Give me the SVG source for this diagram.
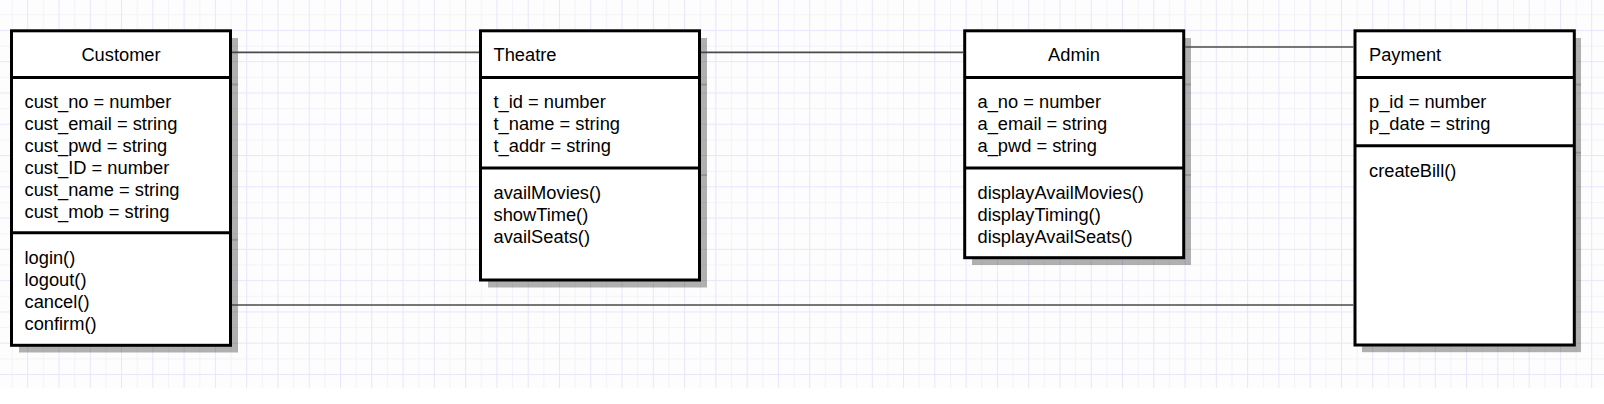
<svg xmlns="http://www.w3.org/2000/svg" width="1604" height="404" viewBox="0 0 1604 404">
<style>
.box{fill:#ffffff;stroke:#000000;stroke-width:3}
.div{stroke:#000000;stroke-width:3}
.shadow{fill:#000000;fill-opacity:0.3}
.sdiv{stroke:#000000;stroke-opacity:0.15;stroke-width:2}
.t{font-family:"Liberation Sans",Arial,sans-serif;font-size:18.3px;fill:#000000}
.c{text-anchor:middle}
.conn{stroke:#4a4a4a;stroke-width:1.7;fill:none}
</style>
<defs>
<pattern id="grid" patternUnits="userSpaceOnUse" x="27.2" y="29.9" width="31.28" height="31.28">
<rect x="0" y="0" width="31.28" height="31.28" fill="#fdfdfe"/>
<rect x="15.64" y="0" width="1" height="31.28" fill="#f3f3f9"/>
<rect x="0" y="15.64" width="31.28" height="1" fill="#f3f3f9"/>
<rect x="0" y="0" width="1" height="31.28" fill="#e8e6fb"/>
<rect x="0" y="0" width="31.28" height="1" fill="#e8e6fb"/>
</pattern>
</defs>
<rect x="0" y="0" width="1604" height="404" fill="#ffffff"/>
<rect id="grid-bg" x="0" y="0" width="1604" height="388" fill="url(#grid)"/>

<g id="customer">
<rect class="shadow" x="19" y="38" width="219" height="314.5"/>
<line class="sdiv" x1="231" y1="84.5" x2="238" y2="84.5"/>
<line class="sdiv" x1="231" y1="239.8" x2="238" y2="239.8"/>
<rect class="box" x="11.5" y="30.8" width="219" height="314.5"/>
<line class="div" x1="11.5" y1="77.5" x2="230.5" y2="77.5"/>
<line class="div" x1="11.5" y1="232.8" x2="230.5" y2="232.8"/>
<text class="t c" x="121" y="61">Customer</text>
<text class="t" x="24.5" y="108">cust_no = number</text>
<text class="t" x="24.5" y="130">cust_email = string</text>
<text class="t" x="24.5" y="152">cust_pwd = string</text>
<text class="t" x="24.5" y="174">cust_ID = number</text>
<text class="t" x="24.5" y="196">cust_name = string</text>
<text class="t" x="24.5" y="218">cust_mob = string</text>
<text class="t" x="24.5" y="264">login()</text>
<text class="t" x="24.5" y="286">logout()</text>
<text class="t" x="24.5" y="308">cancel()</text>
<text class="t" x="24.5" y="330">confirm()</text>
</g>

<g id="theatre">
<rect class="shadow" x="488" y="38" width="219" height="249.5"/>
<line class="sdiv" x1="700" y1="84.5" x2="707" y2="84.5"/>
<line class="sdiv" x1="700" y1="175" x2="707" y2="175"/>
<rect class="box" x="480.5" y="30.8" width="219" height="249.2"/>
<line class="div" x1="480.5" y1="77.5" x2="699.5" y2="77.5"/>
<line class="div" x1="480.5" y1="168" x2="699.5" y2="168"/>
<text class="t" x="493.5" y="61">Theatre</text>
<text class="t" x="493.5" y="108">t_id = number</text>
<text class="t" x="493.5" y="130">t_name = string</text>
<text class="t" x="493.5" y="152">t_addr = string</text>
<text class="t" x="493.5" y="199">availMovies()</text>
<text class="t" x="493.5" y="221">showTime()</text>
<text class="t" x="493.5" y="243">availSeats()</text>
</g>

<g id="admin">
<rect class="shadow" x="972" y="38" width="219" height="227"/>
<line class="sdiv" x1="1184" y1="84.5" x2="1191" y2="84.5"/>
<line class="sdiv" x1="1184" y1="175" x2="1191" y2="175"/>
<rect class="box" x="964.7" y="30.8" width="219" height="226.9"/>
<line class="div" x1="964.7" y1="77.5" x2="1183.7" y2="77.5"/>
<line class="div" x1="964.7" y1="168" x2="1183.7" y2="168"/>
<text class="t c" x="1074" y="61">Admin</text>
<text class="t" x="977.5" y="108">a_no = number</text>
<text class="t" x="977.5" y="130">a_email = string</text>
<text class="t" x="977.5" y="152">a_pwd = string</text>
<text class="t" x="977.5" y="199">displayAvailMovies()</text>
<text class="t" x="977.5" y="221">displayTiming()</text>
<text class="t" x="977.5" y="243">displayAvailSeats()</text>
</g>

<g id="payment">
<rect class="shadow" x="1362" y="38" width="219" height="314.2"/>
<line class="sdiv" x1="1575" y1="84.5" x2="1581" y2="84.5"/>
<line class="sdiv" x1="1575" y1="152.7" x2="1581" y2="152.7"/>
<rect class="box" x="1355" y="30.8" width="219.3" height="314.2"/>
<line class="div" x1="1355" y1="77.5" x2="1574.3" y2="77.5"/>
<line class="div" x1="1355" y1="145.7" x2="1574.3" y2="145.7"/>
<text class="t" x="1369" y="61">Payment</text>
<text class="t" x="1369" y="108">p_id = number</text>
<text class="t" x="1369" y="130">p_date = string</text>
<text class="t" x="1369" y="177">createBill()</text>
</g>

<g id="connectors">
<line class="conn" x1="232" y1="52.3" x2="479" y2="52.3"/>
<line class="conn" x1="701" y1="52.3" x2="963.2" y2="52.3"/>
<line class="conn" x1="1185.2" y1="47" x2="1353.5" y2="47"/>
<line class="conn" x1="232" y1="305" x2="1353.5" y2="305"/>
</g>
</svg>
